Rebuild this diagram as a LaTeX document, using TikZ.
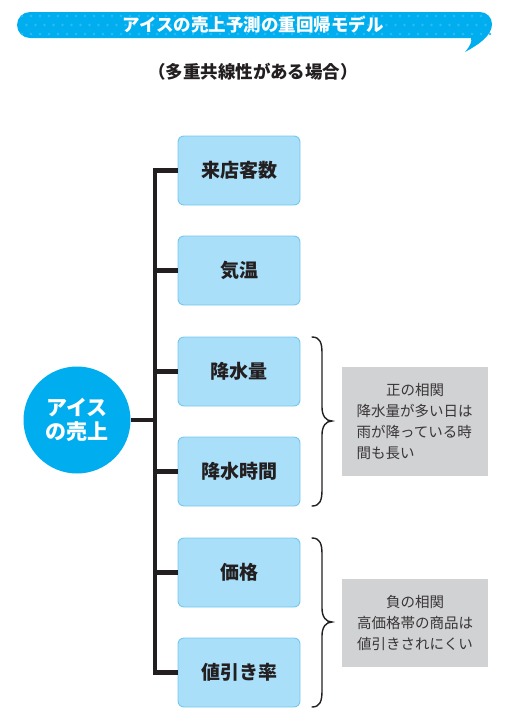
\documentclass[tikz,border=0pt]{standalone}
\usepackage{fontspec}
\setmainfont{Noto Sans CJK JP}
\usetikzlibrary{calc}
\definecolor{bannerblue}{HTML}{00AEEF}
\definecolor{dotblue}{HTML}{2FBCF1}
\definecolor{boxfill}{HTML}{A9DFF9}
\definecolor{boxline}{HTML}{74C8EF}
\definecolor{grayfill}{HTML}{D1D2D4}
\definecolor{inkdark}{HTML}{231F20}
\tikzset{
  factor/.style={draw=boxline, fill=boxfill, line width=0.9pt, rounded corners=6pt,
    minimum width=122pt, minimum height=69pt, inner sep=0pt,
    font=\fontsize{19}{22}\selectfont\bfseries, text=inkdark},
  note/.style={fill=grayfill, minimum width=146pt, inner sep=0pt,
    font=\fontsize{14.5}{21}\selectfont, text=inkdark!90},
  trunk/.style={line width=4.6pt, draw=inkdark},
  branch/.style={line width=4.2pt, draw=inkdark},
  bracestyle/.style={line width=1.4pt, draw=inkdark, line cap=round},
}
\begin{document}
\begin{tikzpicture}[x=1pt,y=-1pt]
\useasboundingbox (0,0) rectangle (507,724);
% banner
\path[fill=bannerblue] (30,12) -- (480,12) arc[start angle=270,end angle=360,radius=12]
  .. controls (492,36) and (478,45) .. (465,52)
  .. controls (471,45) and (472,41) .. (471,38)
  -- (30,38) arc[start angle=90,end angle=270,radius=13] -- cycle;
\begin{scope}
\clip (30,12) -- (480,12) arc[start angle=270,end angle=360,radius=12] -- (492,38) -- (30,38) arc[start angle=90,end angle=270,radius=13] -- cycle;
\foreach \i in {0,...,52} {
  \fill[dotblue] (22+9*\i,16) circle (1.3);
  \fill[dotblue] (26.5+9*\i,25) circle (1.3);
  \fill[dotblue] (22+9*\i,34) circle (1.3);
}
\end{scope}
\node[text=white, font=\fontsize{17.5}{20}\selectfont\bfseries] (title) at (253,25) {アイスの売上予測の重回帰モデル};
\node[text=inkdark, font=\fontsize{17.5}{20}\selectfont\bfseries] (subtitle) at (253,72) {（多重共線性がある場合）};
% factor boxes
\node[factor] (f1) at (239,170.5) {来店客数};
\node[factor] (f2) at (239,270.5) {気温};
\node[factor] (f3) at (239,371.5) {降水量};
\node[factor] (f4) at (239,471.5) {降水時間};
\node[factor] (f5) at (239,572.5) {価格};
\node[factor] (f6) at (239,672.5) {値引き率};
% circle
\node[circle, fill=bannerblue, minimum size=107pt, inner sep=0pt, text=white, align=center,
  font=\fontsize{21}{24}\selectfont\bfseries] (sales) at (77,420) {アイス\\の売上};
% trunk
\coordinate (ttop) at (155,168.4);
\coordinate (tbot) at (155,674.6);
\draw[trunk] (ttop) -- (tbot);
\foreach \n in {f1,f2,f3,f4,f5,f6} {
  \draw[branch] (ttop |- \n.west) -- (\n.west);
}
\coordinate (tmid) at (155,420);
\draw[branch] (sales.east) -- (tmid);
% braces
\draw[bracestyle] (312,337) .. controls (320,337) and (322,343) .. (322,353) -- (322,407)
  .. controls (322,416) and (326,421) .. (332,421)
  .. controls (326,421) and (322,426) .. (322,435) -- (322,490)
  .. controls (322,500) and (320,506) .. (312,506);
\draw[bracestyle] (312,538) .. controls (320,538) and (322,544) .. (322,554) -- (322,608)
  .. controls (322,617) and (326,622) .. (332,622)
  .. controls (326,622) and (322,627) .. (322,636) -- (322,691)
  .. controls (322,701) and (320,707) .. (312,707);
% notes
\node[note, minimum height=109pt, align=left] (n1) at (415,421.5)
  {\makebox[117pt][c]{正の相関}\\降水量が多い日は\\雨が降っている時\\間も長い};
\node[note, minimum height=88pt, align=center] (n2) at (415,623)
  {負の相関\\高価格帯の商品は\\値引きされにくい};
\end{tikzpicture}
\end{document}
